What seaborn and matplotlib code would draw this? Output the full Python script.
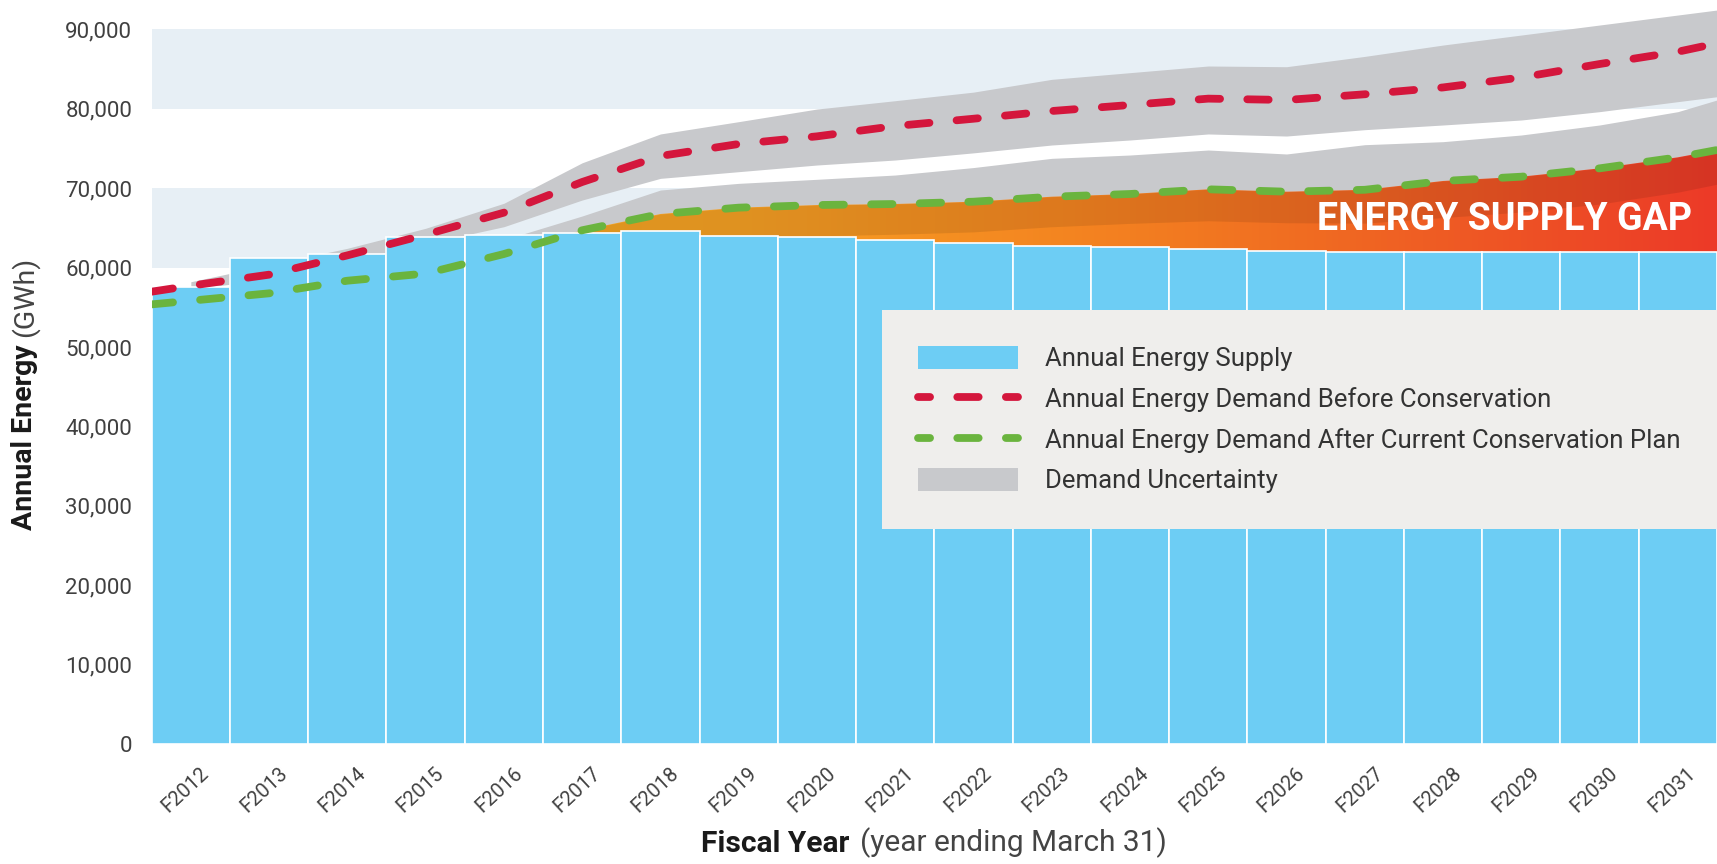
import numpy as np
import pandas as pd
import matplotlib
matplotlib.use('Agg')
import matplotlib.pyplot as plt
import seaborn as sns
from matplotlib.patches import Patch
from matplotlib.lines import Line2D
from matplotlib.colors import LinearSegmentedColormap
from matplotlib.ticker import FuncFormatter
from matplotlib import transforms

sns.set_style("white")
plt.rcParams['font.family'] = ['Roboto', 'DejaVu Sans']

# --- data (GWh) ---
years = ['F2012', 'F2013', 'F2014', 'F2015', 'F2016', 'F2017', 'F2018', 'F2019', 'F2020', 'F2021',
         'F2022', 'F2023', 'F2024', 'F2025', 'F2026', 'F2027', 'F2028', 'F2029', 'F2030', 'F2031']
supply = [57600, 61200, 61700, 63900, 64100, 64400, 64650, 64000, 63800, 63450,
          63050, 62750, 62550, 62300, 62100, 62000, 62000, 62000, 62000, 62000]
demand_before = [57720, 59110, 61540, 64150, 66920, 70780, 74060, 75570, 76530, 77830,
                 78750, 79720, 80480, 81280, 81110, 81830, 82690, 83950, 85640, 87190]
demand_after = [55830, 56760, 58350, 59250, 61710, 64700, 66750, 67550, 67880, 68010,
                68300, 68930, 69270, 69860, 69560, 69800, 70910, 71450, 72500, 73890]
before_low = [57300, 58500, 60800, 63000, 65150, 68510, 71240, 72080, 72920, 73550,
              74450, 75440, 76070, 76830, 76570, 77370, 77960, 78590, 79640, 80900]
before_high = [58220, 60330, 62430, 64950, 68100, 73200, 76830, 78380, 79970, 81020,
               82100, 83710, 84550, 85390, 85300, 86600, 88030, 89290, 90550, 91810]
after_low = [55300, 56000, 57500, 58200, 60000, 62000, 63000, 63700, 64000, 64200,
             64500, 65150, 65570, 65900, 65650, 65600, 66300, 67000, 68000, 69500]
after_high = [56300, 57500, 59300, 60500, 63500, 66500, 69770, 70610, 71120, 71660,
              72600, 73760, 74180, 74810, 74310, 75480, 75860, 76700, 77960, 79640]
# values at the left / right edge of the plot
before_edges = [56970, 88240]
after_edges = [55370, 74810]
before_band_end = [81520, 92440]
after_band_end = [70500, 81110]

# --- colours ---
BLUE = '#6dcdf4'
RED = '#d4163c'
GREEN = '#6ab43e'
GREY = '#c8c9cc'
BAND = '#e7eff5'
gap_colors = ['#f5a623', '#f5a623', '#f5a623', '#f7a125', '#f59022', '#f37f20',
              '#f06a22', '#ee5225', '#ec3a28']

W, H = 1717, 864
fig = plt.figure(figsize=(W / 100, H / 100), dpi=100)
ax = fig.add_axes([151.7 / W, 120 / H, (W - 151.7) / W, 744 / H])

n = len(years)
x = np.arange(n)
xmax = n - 0.5
x_line = np.r_[-0.5, x, xmax]
x_band = np.r_[x, xmax]

before_line = np.r_[before_edges[0], demand_before, before_edges[1]]
after_line = np.r_[after_edges[0], demand_after, after_edges[1]]
after_at_band = np.r_[demand_after, after_edges[1]]

# bars
df = pd.DataFrame({'year': years, 'supply': supply})
sns.barplot(data=df, x='year', y='supply', color=BLUE, saturation=1, width=1,
            edgecolor='white', linewidth=1.2, zorder=3, ax=ax)

# background bands
for lo in range(0, 90000, 20000):
    ax.axhspan(lo, lo + 10000, color=BAND, lw=0, zorder=0)

# uncertainty bands
ax.fill_between(x_band, np.r_[before_low, before_band_end[0]], np.r_[before_high, before_band_end[1]],
                color=GREY, lw=0, zorder=1)
ax.fill_between(x_band, np.r_[after_low, after_band_end[0]], np.r_[after_high, after_band_end[1]],
                color=GREY, lw=0, zorder=1)

# energy supply gap gradient
cmap = LinearSegmentedColormap.from_list('gap', gap_colors)
poly = ax.fill_between(x_line, 0, after_line, color='none', lw=0)
grad = np.linspace(0, 1, 512).reshape(1, -1)
img = ax.imshow(grad, cmap=cmap, extent=[-0.5, xmax, 0, 90000], aspect='auto',
                interpolation='bicubic', zorder=2)
img.set_clip_path(poly.get_paths()[0], ax.transData)
ax.fill_between(x_band, np.r_[after_low, after_band_end[0]], after_at_band,
                color='black', alpha=0.09, lw=0, zorder=2.5)

# demand lines
dash = (0, (2.75, 3.5))
sns.lineplot(x=x_line, y=before_line, color=RED, lw=5.6, linestyle=dash, dash_capstyle='round',
             estimator=None, errorbar=None, sort=False, zorder=4, ax=ax)
sns.lineplot(x=x_line, y=after_line, color=GREEN, lw=5.6, linestyle=dash, dash_capstyle='round',
             estimator=None, errorbar=None, sort=False, zorder=4, ax=ax)

ax.set_xlim(-0.5, xmax)
ax.set_ylim(0, 744 / 79.4 * 10000)
ax.set_facecolor('white')
for s in ax.spines.values():
    s.set_visible(False)
ax.set_xlabel('')
ax.set_ylabel('')

ax.set_yticks(range(0, 90001, 10000))
ax.yaxis.set_major_formatter(FuncFormatter(lambda v, p: f'{int(v):,}'))
ax.tick_params(axis='y', length=0, pad=14, labelsize=16, labelcolor='#404040')
ax.tick_params(axis='x', length=0, pad=14, labelsize=14.5, labelcolor='#404040')
shift = transforms.ScaledTranslation(9 / 100, 0, fig.dpi_scale_trans)
for lab in ax.get_xticklabels():
    lab.set_rotation(43)
    lab.set_ha('right')
    lab.set_va('top')
    lab.set_rotation_mode('anchor')
    lab.set_transform(lab.get_transform() + shift)

# gap label
fig.text(1692 / W, 1 - 219 / H, 'ENERGY SUPPLY GAP', ha='right', va='center',
         color='white', fontsize=27, fontweight='bold', zorder=6)

# axis titles
t1 = fig.text(25 / W, 1 - 530 / H, 'Annual Energy', rotation=90, ha='center', va='bottom',
              fontsize=20.5, fontweight='bold', color='#1a1a1a')
ax.annotate('(GWh)', xy=(0.5, 1), xycoords=t1, xytext=(0, 5), textcoords='offset points',
            rotation=90, ha='center', va='bottom', fontsize=20.5, color='#444444',
            annotation_clip=False)
t2 = fig.text(701 / W, 1 - 858 / H, 'Fiscal Year', ha='left', va='bottom',
              fontsize=21.5, fontweight='bold', color='#1a1a1a')
ax.annotate('(year ending March 31)', xy=(1, 0), xycoords=t2, xytext=(8, 0),
            textcoords='offset points', ha='left', va='bottom', fontsize=21.5, color='#444444',
            annotation_clip=False)

# legend
leg_dash = (1.2, (2.75, 3.5))
handles = [
    Patch(facecolor=BLUE, edgecolor='none'),
    Line2D([], [], color=RED, lw=5.6, linestyle=leg_dash, dash_capstyle='round'),
    Line2D([], [], color=GREEN, lw=5.6, linestyle=leg_dash, dash_capstyle='round'),
    Patch(facecolor=GREY, edgecolor='none'),
]
labels = ['Annual Energy Supply', 'Annual Energy Demand Before Conservation',
          'Annual Energy Demand After Current Conservation Plan', 'Demand Uncertainty']
leg = ax.legend(handles, labels, loc='upper right', bbox_to_anchor=(1, 1 - 310 / H),
                bbox_transform=fig.transFigure, borderaxespad=0, frameon=True,
                fancybox=False, facecolor='#efeeec', edgecolor='none', framealpha=1,
                fontsize=18.5, labelcolor='#333333', handlelength=3.9, handleheight=1.0,
                handletextpad=1.05, labelspacing=0.6, borderpad=1.4)
leg.set_zorder(10)

fig.savefig('out.png', dpi=100)
